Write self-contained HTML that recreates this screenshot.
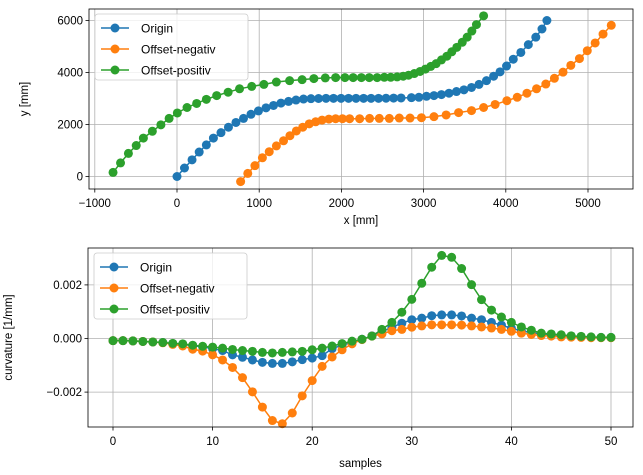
<!DOCTYPE html>
<html><head><meta charset="utf-8"><style>
body{margin:0;background:#fff;}
svg{display:block;font-family:"Liberation Sans","DejaVu Sans",sans-serif;}
</style></head><body>
<svg id="fig" width="643" height="475" viewBox="0 0 643 475">
<rect width="643" height="475" fill="#fff"/>
</svg>
<script>
// ---- top chart data (x,y in mm) ----
const originX=[0,91,183,270,357,443,535,626,717,809,900,991,1083,1174,1265,1357,1448,1539,1630,1722,1813,1904,1996,2087,2178,2270,2361,2452,2543,2635,2726,2852,2943,3035,3126,3217,3309,3400,3491,3583,3674,3765,3852,3930,4009,4091,4183,4274,4365,4440,4500];
const originY=[0,327,640,941,1216,1477,1686,1895,2078,2235,2392,2523,2641,2732,2824,2889,2941,2980,2993,3000,3007,3007,3007,3007,3007,3007,3007,3007,3010,3015,3020,3033,3046,3085,3111,3150,3203,3268,3333,3425,3542,3686,3856,4026,4248,4510,4771,5072,5359,5673,6000];
const negX=[774,861,948,1039,1122,1209,1296,1374,1452,1530,1609,1687,1765,1848,1930,2013,2100,2222,2343,2461,2583,2704,2835,2974,3126,3274,3426,3583,3730,3870,4013,4139,4257,4374,4487,4591,4696,4791,4896,4991,5087,5183,5283];
const negY=[-196,118,418,719,954,1176,1373,1569,1752,1895,2026,2105,2170,2209,2222,2222,2222,2222,2235,2235,2235,2248,2248,2261,2301,2366,2458,2536,2654,2771,2915,3046,3203,3373,3556,3778,4013,4275,4536,4837,5137,5477,5817];
const posX=[-778,-687,-591,-496,-409,-300,-196,-96,4,122,239,357,483,622,761,909,1057,1209,1370,1522,1665,1804,1930,2043,2143,2243,2339,2435,2522,2600,2678,2752,2817,2887,2957,3022,3087,3152,3217,3283,3343,3404,3470,3530,3587,3643,3730];
const posY=[157,523,889,1190,1477,1739,1987,2235,2444,2654,2810,2967,3111,3242,3373,3464,3542,3634,3686,3725,3765,3791,3804,3804,3804,3804,3804,3804,3817,3817,3830,3856,3895,3961,4039,4131,4235,4340,4484,4627,4797,4967,5163,5359,5595,5843,6180];
const topXTicks=[-1000,0,1000,2000,3000,4000,5000];
const topYTicks=[0,2000,4000,6000];
// ---- bottom chart data (curvature in 1e-3 1/mm) ----
const curvOrigin=[-0.08,-0.08,-0.09,-0.11,-0.13,-0.15,-0.19,-0.22,-0.27,-0.31,-0.38,-0.45,-0.61,-0.70,-0.80,-0.89,-0.93,-0.93,-0.87,-0.79,-0.73,-0.64,-0.38,-0.25,-0.15,-0.03,0.10,0.25,0.42,0.57,0.70,0.76,0.85,0.88,0.88,0.84,0.76,0.70,0.60,0.50,0.38,0.29,0.22,0.17,0.14,0.11,0.09,0.06,0.05,0.04,0.04];
const curvNeg=[-0.08,-0.08,-0.09,-0.11,-0.13,-0.16,-0.22,-0.28,-0.40,-0.47,-0.61,-0.80,-1.08,-1.46,-1.99,-2.56,-3.06,-3.18,-2.78,-2.14,-1.57,-1.04,-0.69,-0.42,-0.20,-0.04,0.09,0.17,0.29,0.34,0.42,0.47,0.51,0.51,0.51,0.50,0.47,0.43,0.39,0.34,0.27,0.20,0.15,0.11,0.09,0.06,0.05,0.04,0.03,0.03,0.03];
const curvPos=[-0.08,-0.08,-0.09,-0.11,-0.13,-0.15,-0.18,-0.20,-0.25,-0.29,-0.32,-0.36,-0.41,-0.45,-0.48,-0.52,-0.54,-0.52,-0.50,-0.48,-0.42,-0.36,-0.28,-0.19,-0.10,-0.03,0.09,0.34,0.60,0.98,1.46,2.06,2.66,3.10,3.03,2.61,2.01,1.45,1.06,0.80,0.60,0.43,0.31,0.20,0.17,0.14,0.10,0.08,0.06,0.04,0.04];
const botXTicks=[0,10,20,30,40,50];
const botYTicks=[-2,0,2];
const botYLabels=["\u22120.002","0.000","0.002"];
const topXLabels=["\u22121000","0","1000","2000","3000","4000","5000"];

const NS="http://www.w3.org/2000/svg";
const svg=document.getElementById('fig');
function mk(tag,attrs,parent){const e=document.createElementNS(NS,tag);for(const k in attrs)e.setAttribute(k,attrs[k]);(parent||svg).appendChild(e);return e;}
const C=['#1f77b4','#ff7f0e','#2ca02c'];
const names=['Origin','Offset-negativ','Offset-positiv'];

function axes(box,sx,sy,xt,xl,yt,yl,xtitle,ytitle,ytx,prefix,titleOff){
  const g=mk('g',{});
  
  
  xt.forEach((t,i)=>{const x=sx(t);
    mk('line',{x1:x,x2:x,y1:box.t,y2:box.b,stroke:'#b0b0b0','stroke-width':0.8},g);
    mk('line',{x1:x,x2:x,y1:box.b,y2:box.b+3.5,stroke:'#000','stroke-width':0.8},g);
    const tx=mk('text',{x:x,y:box.b+18,'text-anchor':'middle','font-size':11.5,fill:'#000'},g);tx.textContent=xl[i];
    
    });
  yt.forEach((t,i)=>{const y=sy(t);
    mk('line',{x1:box.l,x2:box.r,y1:y,y2:y,stroke:'#b0b0b0','stroke-width':0.8},g);
    mk('line',{x1:box.l-3.5,x2:box.l,y1:y,y2:y,stroke:'#000','stroke-width':0.8},g);
    const tx=mk('text',{x:box.l-6,y:y+4,'text-anchor':'end','font-size':11.5,fill:'#000'},g);tx.textContent=yl[i];
    
    });
  const xtl=mk('text',{x:(box.l+box.r)/2,y:box.b+titleOff,'text-anchor':'middle','font-size':11.5},g);xtl.textContent=xtitle;
  
  
  const ytl=mk('text',{x:ytx,y:(box.t+box.b)/2,'text-anchor':'middle','font-size':11.5,transform:`rotate(-90 ${ytx} ${(box.t+box.b)/2})`},g);ytl.textContent=ytitle;
  
  
}
function series(xs,ys,sx,sy,color,name){
  const g=mk('g',{});
  
  
  mk('polyline',{points:xs.map((x,i)=>sx(x)+','+sy(ys[i])).join(' '),fill:'none',stroke:color,'stroke-width':1.5},g);
  xs.forEach((x,i)=>{const c=mk('circle',{cx:sx(x),cy:sy(ys[i]),r:4.5,fill:color},g);
    
    });
}
function frame(box,name){const r=mk('rect',{x:box.l,y:box.t,width:box.r-box.l,height:box.b-box.t,fill:'none',stroke:'#000','stroke-width':0.8});
  
  }
function legend(x,y,prefix){
  const g=mk('g',{});
  
  
  mk('rect',{x:x,y:y,width:153,height:66,rx:3,fill:'#fff','fill-opacity':0.8,stroke:'#ccc','stroke-width':0.8},g);
  names.forEach((n,i)=>{const yy=y+14+i*21;
    const e=mk('g',{},g);
    
    
    mk('line',{x1:x+6,x2:x+34,y1:yy,y2:yy,stroke:C[i],'stroke-width':1.5},e);
    mk('circle',{cx:x+20,cy:yy,r:4.5,fill:C[i]},e);
    const t=mk('text',{x:x+46,y:yy+4.5,'font-size':12},e);t.textContent=n;});
}
// top
const tb={l:89,r:633,t:9,b:189};
const tsx=d=>177+d*0.0822, tsy=d=>176.5-d*0.026;
axes(tb,tsx,tsy,topXTicks,topXLabels,topYTicks,topYTicks.map(String),'x [mm]','y [mm]',28,'top',35);
series(originX,originY,tsx,tsy,C[0],'top-origin-series');
series(negX,negY,tsx,tsy,C[1],'top-offset-negativ-series');
series(posX,posY,tsx,tsy,C[2],'top-offset-positiv-series');
frame(tb,'top-plot-frame');
legend(95,14,'top');
// bottom
const bb={l:88,r:633,t:248,b:427};
const bsx=s=>113+s*9.96, bsy=v=>338.5-v*26.8;
const idx=curvOrigin.map((_,i)=>i);
axes(bb,bsx,bsy,botXTicks,botXTicks.map(String),botYTicks,botYLabels,'samples','curvature [1/mm]',12,'bottom',40);
series(idx,curvOrigin,bsx,bsy,C[0],'bottom-origin-series');
series(idx,curvNeg,bsx,bsy,C[1],'bottom-offset-negativ-series');
series(idx,curvPos,bsx,bsy,C[2],'bottom-offset-positiv-series');
frame(bb,'bottom-plot-frame');
legend(94,253,'bottom');
</script>
</body></html>
